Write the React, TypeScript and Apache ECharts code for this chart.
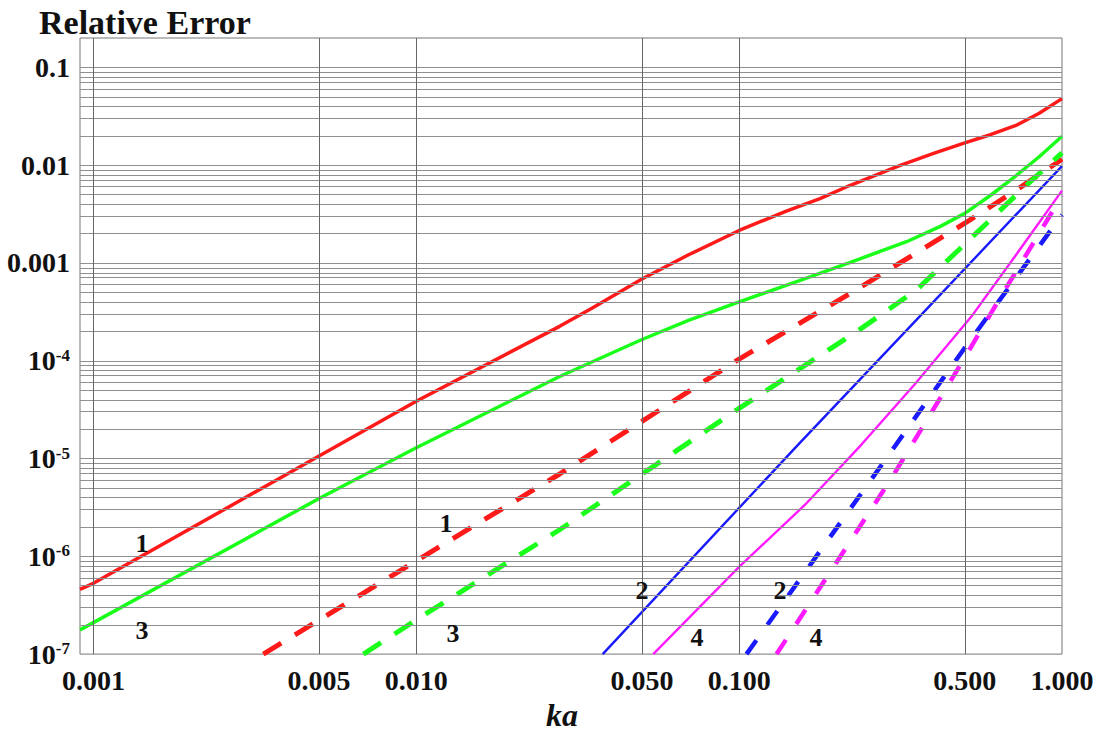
import React, { useEffect, useRef } from "react";
import * as echarts from "echarts";

// ---------- data ----------
const xTickValues = [0.001, 0.005, 0.01, 0.05, 0.1, 0.5, 1.0];
const xTickLabels = ["0.001", "0.005", "0.010", "0.050", "0.100", "0.500", "1.000"];
const yTickValues = [1e-7, 1e-6, 1e-5, 1e-4, 1e-3, 1e-2, 1e-1];
const yTickLabels = [
  "{b|10}{sup|-7}",
  "{b|10}{sup|-6}",
  "{b|10}{sup|-5}",
  "{b|10}{sup|-4}",
  "{b|0.001}",
  "{b|0.01}",
  "{b|0.1}",
];
const xMin = 0.000909;
const xMax = 1.0;
const yMin = 1e-7;
const yMax = 0.2;

// curve 1, solid (red)
const ka1 = [0.000909, 0.001, 0.005, 0.01, 0.0278, 0.035, 0.05, 0.07, 0.1, 0.14, 0.178, 0.22, 0.314, 0.4, 0.5, 0.6, 0.72, 0.85, 1.0];
const err1 = [4.6e-7, 5.3e-7, 1.06e-5, 3.85e-5, 2.25e-4, 3.44e-4, 6.87e-4, 1.22e-3, 2.15e-3, 3.4e-3, 4.56e-3, 6.2e-3, 9.9e-3, 1.32e-2, 1.69e-2, 2.05e-2, 2.55e-2, 3.4e-2, 4.8e-2];
// curve 3, solid (green)
const ka3 = [0.000909, 0.001, 0.005, 0.01, 0.0278, 0.05, 0.07, 0.1, 0.15, 0.22, 0.33, 0.42, 0.5, 0.6, 0.72, 0.85, 1.0];
const err3 = [1.77e-7, 2.1e-7, 3.9e-6, 1.29e-5, 6.9e-5, 1.65e-4, 2.6e-4, 4.0e-4, 6.4e-4, 1.01e-3, 1.65e-3, 2.37e-3, 3.22e-3, 4.9e-3, 7.8e-3, 1.22e-2, 1.98e-2];
// curve 1, dashed (red)
const ka1d = [0.00336, 0.01, 0.0278, 0.1, 0.22, 0.5, 0.73, 1.0];
const err1d = [1e-7, 9e-7, 6.95e-6, 1.04e-4, 4.85e-4, 2.55e-3, 5.7e-3, 1.15e-2];
// curve 3, dashed (green)
const ka3d = [0.00686, 0.01, 0.0278, 0.1, 0.236, 0.354, 0.5, 0.787, 1.0];
const err3d = [1e-7, 2.24e-7, 1.87e-6, 3.26e-5, 2.08e-4, 5.3e-4, 1.56e-3, 6.5e-3, 1.34e-2];
// curve 2, solid (blue)
const ka2 = [0.0378, 0.1524, 0.362, 1.0];
const err2 = [1e-7, 1.39e-5, 2.83e-4, 9.8e-3];
// curve 4, solid (magenta)
const ka4 = [0.0542, 0.1, 0.16, 0.2393, 0.35, 0.524, 0.723, 1.0];
const err4 = [1e-7, 7.8e-7, 3.37e-6, 1.39e-5, 5.75e-5, 2.83e-4, 1.23e-3, 5.5e-3];
// curve 2, dashed (blue)
const ka2d = [0.1054, 0.289, 0.5, 1.0];
const err2d = [1e-7, 1.06e-5, 1.36e-4, 3.1e-3];
// curve 4, dashed (magenta)
const ka4d = [0.1306, 0.3, 0.5, 0.619, 1.0];
const err4d = [1e-7, 6.7e-6, 1.08e-4, 3.56e-4, 4.9e-3];

// curve annotations
const annoText = ["1", "3", "1", "3", "2", "4", "2", "4"];
const annoPos = [
  [142, 543], [142, 630], [446, 523], [453, 633],
  [642, 590], [697, 637], [780, 590], [816, 637],
];

const L = Math.log10;
const toPts = (xs: number[], ys: number[]) => xs.map((x, i) => [L(x), L(ys[i])]);
const FONT = "Liberation Serif";

export default function App() {
  const ref = useRef<HTMLDivElement>(null);
  useEffect(() => {
    document.body.style.margin = "0";
    const chart = echarts.init(ref.current!, null, { renderer: "svg" });

    const vLines = xTickValues.filter((v) => v < 1).map((v) => ({ xAxis: L(v) }));
    const hLines: any[] = [];
    for (let d = -7; d <= -1; d++) {
      for (let m = 1; m <= 9; m++) {
        const v = m * Math.pow(10, d);
        if (v > yMin && v < yMax) hLines.push({ yAxis: L(v) });
      }
    }

    const lineSeries = (name: string, xs: number[], ys: number[], color: string, width: number, type: any) => ({
      name,
      type: "line",
      data: toPts(xs, ys),
      showSymbol: false,
      symbol: "none",
      smooth: false,
      clip: true,
      lineStyle: { color, width, type, cap: "butt", join: "round" },
      z: 3,
    });

    chart.setOption({
      animation: false,
      backgroundColor: "#fff",
      title: {
        text: "Relative Error",
        left: 34,
        top: 0,
        textStyle: { fontFamily: FONT, fontWeight: "bold", fontSize: 34, color: "#111" },
      },
      grid: { left: 80, right: 38, top: 38, bottom: 73, show: true, borderColor: "#777", borderWidth: 1 },
      xAxis: {
        type: "value",
        min: L(xMin),
        max: L(xMax),
        name: "ka",
        nameLocation: "middle",
        nameGap: 44,
        nameTextStyle: {
          fontFamily: FONT, fontStyle: "italic", fontWeight: "bold", fontSize: 32, color: "#111",
          padding: [0, 18, 0, 0],
        },
        axisLine: { show: false },
        axisTick: { show: false },
        splitLine: { show: false },
        axisLabel: {
          customValues: xTickValues.map(L),
          margin: 12,
          fontFamily: FONT,
          fontWeight: "bold",
          fontSize: 28,
          color: "#111",
          formatter: (v: number) => {
            const i = xTickValues.findIndex((t) => Math.abs(L(t) - v) < 1e-6);
            return i >= 0 ? xTickLabels[i] : "";
          },
        },
      },
      yAxis: {
        type: "value",
        min: L(yMin),
        max: L(yMax),
        axisLine: { show: false },
        axisTick: { show: false },
        splitLine: { show: false },
        axisLabel: {
          customValues: yTickValues.map(L),
          margin: 10,
          color: "#111",
          formatter: (v: number) => {
            const i = yTickValues.findIndex((t) => Math.abs(L(t) - v) < 1e-6);
            return i >= 0 ? yTickLabels[i] : "";
          },
          rich: {
            b: { fontFamily: FONT, fontWeight: "bold", fontSize: 28, color: "#111" },
            sup: { fontFamily: FONT, fontWeight: "bold", fontSize: 17, color: "#111", verticalAlign: "top" },
          },
        },
      },
      series: [
        {
          name: "grid",
          type: "line",
          data: [],
          silent: true,
          markLine: {
            silent: true,
            symbol: "none",
            label: { show: false },
            animation: false,
            lineStyle: { color: "#8f8f8f", width: 1, type: "solid" },
            data: [
              ...hLines,
              ...vLines.map((d) => ({ ...d, lineStyle: { color: "#666", width: 1, type: "solid" } })),
            ],
          },
          z: 1,
        },
        lineSeries("1", ka1, err1, "#ff1a1a", 3.5, "solid"),
        lineSeries("3", ka3, err3, "#1aff1a", 3.5, "solid"),
        lineSeries("1 dashed", ka1d, err1d, "#ff1a1a", 5, [21, 16]),
        lineSeries("3 dashed", ka3d, err3d, "#1aff1a", 5, [21, 16]),
        lineSeries("2", ka2, err2, "#1a1aff", 2.4, "solid"),
        lineSeries("4", ka4, err4, "#ff1aff", 2.4, "solid"),
        lineSeries("2 dashed", ka2d, err2d, "#1a1aff", 4.5, [17, 19]),
        lineSeries("4 dashed", ka4d, err4d, "#ff1aff", 4.5, [17, 19]),
      ],
      graphic: annoText.map((t, i) => ({
        type: "text",
        x: annoPos[i][0],
        y: annoPos[i][1],
        style: {
          text: t,
          fontFamily: FONT,
          fontWeight: "bold",
          fontSize: 26,
          fill: "#111",
          align: "center",
          verticalAlign: "middle",
        },
        z: 10,
      })),
    });
    return () => chart.dispose();
  }, []);
  return <div ref={ref} style={{ width: 1100, height: 736 }} />;
}
